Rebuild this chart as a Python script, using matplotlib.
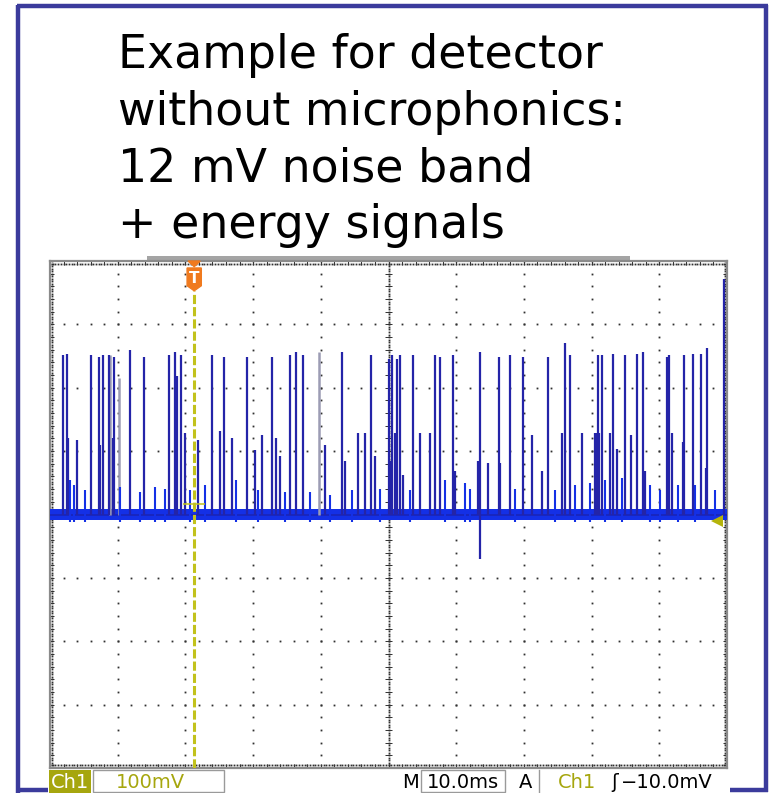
import numpy as np
import matplotlib
matplotlib.use("Agg")
import matplotlib.pyplot as plt
from matplotlib.patches import Rectangle, Polygon

W, H = 770, 793

title_lines = ["Example for detector",
               "without microphonics:",
               "12 mV noise band",
               "+ energy signals"]

# scope settings: 10 ms/div, 100 mV/div, 10 x 8 divisions
time_div_ms = 10.0
volt_div_mv = 100.0
n_xdiv, n_ydiv = 10, 8
trigger_time_ms = 21.3
trigger_level_mv = -10.0
noise_band_mv = 9.0

# full-height energy signals
tall_t = [1.9, 2.5, 6.1, 7.2, 7.8, 8.7, 9.4, 11.8, 13.9, 17.6, 18.5, 19.4,
          23.9, 25.7, 29.1, 32.8, 35.5, 36.3, 37.4, 43.1, 47.4, 50.1, 50.5,
          51.3, 51.7, 53.6, 56.9, 57.6, 59.5, 63.5, 66.3, 68.0, 69.9, 73.6,
          76.1, 76.8, 80.9, 81.5, 83.2, 84.9, 86.7, 87.6, 91.1, 91.4, 93.7,
          95.0, 96.2, 97.1]
tall_mv = [251, 254, 252, 249, 251, 251, 249, 259, 249, 251, 256, 252,
           251, 249, 249, 249, 251, 256, 251, 256, 251, 246, 251,
           246, 251, 251, 252, 249, 251, 256, 249, 252, 249, 249,
           270, 251, 252, 251, 254, 251, 254, 257, 249, 252, 251,
           254, 254, 262]

# medium signals
mid_t = [2.7, 4.0, 7.4, 9.3, 18.8, 19.9, 21.9, 25.1, 26.9, 30.3, 31.3, 33.4,
         34.0, 40.6, 43.6, 45.5, 46.5, 48.0, 50.2, 51.0, 52.1, 54.7, 56.1,
         59.8, 63.2, 64.7, 66.5, 71.2, 72.7, 75.6, 78.6, 80.5, 80.8, 81.1,
         82.7, 83.8, 85.8, 87.9, 91.9, 93.5, 96.9, 99.6]
mid_mv = [121, 117, 109, 120, 219, 128, 117, 132, 120, 101, 125, 120,
          93, 109, 85, 129, 128, 93, 85, 128, 62, 129, 129,
          69, 85, 82, 82, 125, 69, 128, 128, 128, 128, 128,
          128, 103, 125, 69, 128, 114, 73, 372]

# small pulses riding on the noise band
small_t = [3.0, 3.6, 5.2, 10.3, 13.3, 15.5, 17.0, 20.7, 22.9, 27.5, 30.7,
           34.7, 38.4, 41.4, 44.6, 48.7, 53.2, 58.4, 61.3, 62.0, 68.7, 74.6,
           77.6, 79.8, 82.0, 84.5, 88.6, 90.1, 92.8, 95.3, 98.2]
small_mv = [54, 46, 38, 43, 35, 43, 41, 38, 46, 54, 38,
            35, 35, 30, 38, 41, 38, 54, 50, 41, 41, 38,
            46, 50, 54, 57, 46, 38, 46, 46, 38]

# afterglow traces (persistence)
ghost_t = [8.9, 10.2, 39.7]
ghost_mv = [251, 215, 256]

# undershoot
neg_t = [63.5]
neg_mv = [-70]

fig = plt.figure(figsize=(W / 100, H / 100), dpi=100)

# page layer in pixel coordinates
bg = fig.add_axes([0, 0, 1, 1])
bg.set_xlim(0, W)
bg.set_ylim(H, 0)
bg.axis("off")

frame_c = "#3b3b9c"
bg.plot([18, 18], [5, H], color=frame_c, lw=3.2, solid_capstyle="butt")
bg.plot([766, 766], [5, 791.5], color=frame_c, lw=3.2, solid_capstyle="butt")
bg.plot([16.5, 767.5], [6, 6], color=frame_c, lw=3.2, solid_capstyle="butt")
bg.plot([16.5, 767.5], [790, 790], color=frame_c, lw=3.2, solid_capstyle="butt")

for i, line in enumerate(title_lines):
    bg.text(118, 68 + 56.8 * i, line, fontsize=33, family="DejaVu Sans",
            va="baseline", ha="left", color="black")

# record-length bar above the screen
bg.add_patch(Rectangle((147, 256), 483, 4, color="#a4a4a4", lw=0))

# status line
olive = "#a6a60e"
gray_edge = "#9a9a9a"
bg.add_patch(Rectangle((48, 768), 682, 25, fc="white", ec="none", zorder=3))
bg.add_patch(Rectangle((49, 770), 42, 23, fc=olive, ec="none", zorder=4))
bg.add_patch(Rectangle((93, 770), 131, 22, fc="white", ec=gray_edge, lw=1, zorder=4))
bg.add_patch(Rectangle((421, 770), 84, 22, fc="white", ec=gray_edge, lw=1, zorder=4))
bg.plot([539, 539], [770, 792], color=gray_edge, lw=1, zorder=4)
st = dict(fontsize=14, family="DejaVu Sans", va="baseline", zorder=5)
bg.text(51, 788, "Ch1", color="white", **st)
bg.text(116, 788, "100mV", color=olive, **st)
bg.text(402, 788, "M", color="black", **st)
bg.text(427, 788, "10.0ms", color="black", **st)
bg.text(519, 788, "A", color="black", **st)
bg.text(558, 788, "Ch1", color=olive, **st)
bg.text(611, 788, "\u0283", color="black", **st)
bg.text(621, 788, "\u221210.0mV", color="black", **st)

# scope screen
ax = fig.add_axes([50 / W, 1 - 768 / H, 677 / W, 507 / H])
xmax = n_xdiv * time_div_ms
ymax = n_ydiv / 2 * volt_div_mv
ax.set_xlim(0, xmax)
ax.set_ylim(-ymax, ymax)
ax.set_xticks([])
ax.set_yticks([])
for s in ax.spines.values():
    s.set_color("#8a8a8a")
    s.set_linewidth(1.6)

dot = dict(ls="none", marker="s", ms=1.3, color="#303030", mew=0)
xsub = time_div_ms / 5
ysub = volt_div_mv / 5
xdots = np.arange(0, xmax + 0.01, xsub)
ydots = np.arange(-ymax, ymax + 0.01, ysub)

# dotted graticule
for gx in np.arange(time_div_ms, xmax, time_div_ms):
    if gx == xmax / 2:
        continue
    ax.plot(np.full_like(ydots, gx), ydots, **dot)
for gy in np.arange(-ymax + volt_div_mv, ymax, volt_div_mv):
    if gy == 0:
        continue
    ax.plot(xdots, np.full_like(xdots, gy), **dot)

# centre cross with fine ticks
fine_y = np.arange(-ymax, ymax + 0.01, ysub / 5)
fine_x = np.arange(0, xmax + 0.01, xsub / 5)
ax.plot(np.full_like(fine_y, xmax / 2), fine_y, **dot)
ax.plot(fine_x, np.zeros_like(fine_x), **dot)
ax.hlines(ydots, xmax / 2 - 0.5, xmax / 2 + 0.5, color="#303030", lw=0.7)
ax.vlines(xdots, -7, 7, color="#303030", lw=0.7)

# edge rulers
ax.vlines(xdots, ymax - 7, ymax, color="#303030", lw=0.7)
ax.vlines(xdots, -ymax, -ymax + 7, color="#303030", lw=0.7)
ax.hlines(ydots, 0, 0.6, color="#303030", lw=0.7)
ax.hlines(ydots, xmax - 0.6, xmax, color="#303030", lw=0.7)
ax.plot(fine_x, np.full_like(fine_x, ymax - 4), **dot)
ax.plot(fine_x, np.full_like(fine_x, -ymax + 4), **dot)
ax.plot(np.full_like(fine_y, 0.35), fine_y, **dot)
ax.plot(np.full_like(fine_y, xmax - 0.35), fine_y, **dot)

# trace
band_c = "#1430e6"
spike_c = "#2424a8"
ax.fill_between([0, xmax], -noise_band_mv, noise_band_mv, color=band_c, lw=0, zorder=3)
ax.plot([0, xmax], [0, 0], color="#1a24b8", lw=1.2, zorder=3)
ax.vlines(ghost_t, 0, ghost_mv, color="#9c9cb4", lw=1.8, zorder=3)
ax.vlines(small_t, -noise_band_mv - 3, small_mv, color=band_c, lw=1.5, zorder=4)
ax.vlines(mid_t, 0, mid_mv, color=spike_c, lw=1.6, zorder=4)
ax.vlines(tall_t, 0, tall_mv, color=spike_c, lw=1.6, zorder=4)
ax.vlines(neg_t, 0, neg_mv, color=spike_c, lw=1.6, zorder=4)

# trigger position line and marker
trig_c = "#c2c21c"
ax.vlines(trigger_time_ms, -ymax, 352, color=trig_c, lw=2.2,
          linestyles=(0, (3, 1)), zorder=5)
ax.hlines(17, trigger_time_ms - 1.6, trigger_time_ms + 1.6, color=trig_c, lw=1.1, zorder=5)
orange = "#f07a1e"
tt = trigger_time_ms
ax.add_patch(Polygon([(tt - 0.9, ymax), (tt + 0.9, ymax), (tt, ymax - 9)],
                     closed=True, color=orange, clip_on=False, zorder=6))
ax.add_patch(Polygon([(tt - 1.05, 389), (tt + 1.05, 389), (tt + 1.05, 361),
                      (tt, 353), (tt - 1.05, 361)],
                     closed=True, color=orange, clip_on=False, zorder=6))
ax.text(tt, 373, "T", color="white", fontsize=11, fontweight="bold",
        ha="center", va="center", zorder=7)

# trigger level arrow
ax.plot([98.5], [trigger_level_mv], marker="<", ms=9, color="#b4b40a",
        mew=0, clip_on=False, zorder=6)

fig.savefig("out.png", dpi=100)
